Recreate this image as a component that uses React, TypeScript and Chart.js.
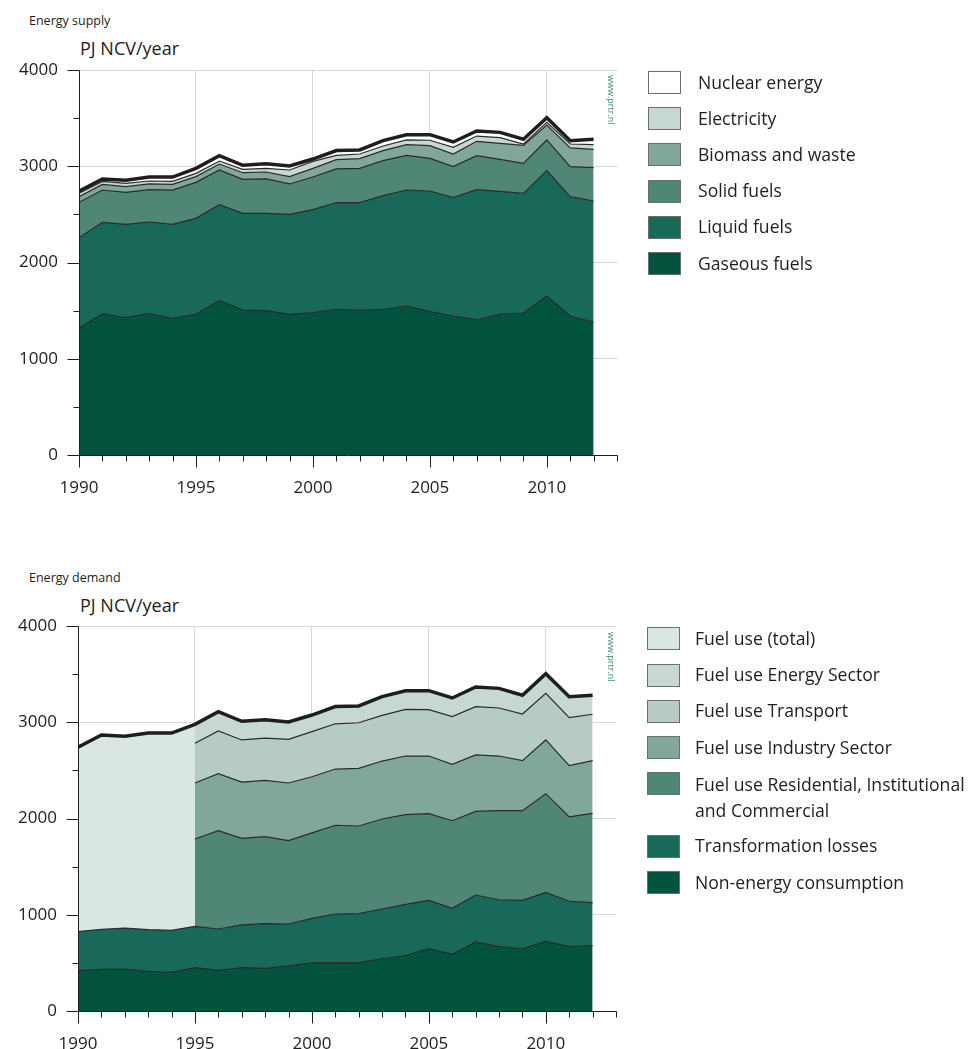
import React, { useEffect, useRef } from "react";
import { Chart, registerables } from "chart.js";

Chart.register(...registerables);

// ---------- DATA ----------
const years = [1990, 1991, 1992, 1993, 1994, 1995, 1996, 1997, 1998, 1999, 2000, 2001, 2002, 2003, 2004, 2005, 2006, 2007, 2008, 2009, 2010, 2011, 2012];

// Energy supply (PJ NCV/year), layer values
const gaseousFuels = [1320, 1465, 1427, 1468, 1420, 1462, 1607, 1506, 1500, 1462, 1479, 1514, 1506, 1514, 1548, 1489, 1444, 1403, 1465, 1475, 1652, 1444, 1382];
const liquidFuels = [938, 952, 970, 953, 977, 997, 994, 1005, 1011, 1038, 1071, 1109, 1116, 1180, 1205, 1254, 1230, 1354, 1274, 1243, 1302, 1240, 1257];
const solidFuels = [367, 336, 332, 336, 356, 374, 360, 353, 357, 316, 338, 350, 356, 364, 360, 339, 322, 353, 333, 312, 319, 312, 346];
const biomassAndWaste = [59, 59, 59, 59, 59, 59, 62, 69, 72, 76, 90, 95, 101, 104, 111, 132, 131, 149, 166, 187, 156, 194, 191];
const electricity = [35, 31, 35, 31, 31, 34, 31, 35, 38, 69, 73, 45, 48, 48, 49, 56, 70, 55, 59, 14, 27, 41, 48];
const nuclearEnergy = [21, 25, 31, 41, 45, 52, 56, 42, 49, 42, 24, 50, 42, 56, 55, 58, 55, 52, 55, 49, 49, 35, 56];

// Energy demand (PJ NCV/year), layer values
const nonEnergyConsumption = [419, 433, 436, 412, 402, 450, 423, 450, 443, 468, 499, 502, 502, 543, 575, 647, 589, 717, 668, 647, 724, 668, 679];
const transformationLosses = [405, 415, 426, 433, 436, 430, 429, 444, 464, 436, 464, 506, 509, 517, 533, 503, 478, 488, 488, 503, 509, 472, 446];
const fuelUseTotal = [1916, 2020, 1992, 2043, 2050, 2098, null, null, null, null, null, null, null, null, null, null, null, null, null, null, null, null, null];
const fuelUseResidential = [null, null, null, null, null, 907, 1021, 900, 904, 866, 888, 922, 911, 935, 932, 900, 910, 869, 925, 931, 1025, 876, 929];
const fuelUseIndustry = [null, null, null, null, null, 582, 593, 585, 586, 599, 583, 584, 599, 602, 609, 599, 586, 586, 568, 520, 558, 533, 547];
const fuelUseTransport = [null, null, null, null, null, 412, 443, 437, 439, 454, 468, 470, 474, 475, 485, 482, 495, 502, 499, 485, 485, 499, 482];
const fuelUseEnergySector = [null, null, null, null, null, 197, 201, 194, 191, 180, 173, 179, 174, 194, 194, 197, 194, 204, 204, 194, 204, 218, 197];

const yTickValues = [0, 1000, 2000, 3000, 4000];
const xTickLabels = [1990, 1995, 2000, 2005, 2010];

const supplyLabels = ["Nuclear energy", "Electricity", "Biomass and waste", "Solid fuels", "Liquid fuels", "Gaseous fuels"];
const demandLabels = [
  "Fuel use (total)",
  "Fuel use Energy Sector",
  "Fuel use Transport",
  "Fuel use Industry Sector",
  "Fuel use Residential, Institutional\nand Commercial",
  "Transformation losses",
  "Non-energy consumption",
];

// ---------- STYLE ----------
const FONT = "'Open Sans', sans-serif";
const LINE = "#2a2a2a";
const C_GAS = "#02533e";
const C_LIQ = "#186957";
const C_SOL = "#4f8676";
const C_BIO = "#80a799";
const C_ELEC = "#c6d8d1";
const C_NUC = "#ffffff";
const C_FTOT = "#d9e6e2";
const C_ENS = "#c6d8d1";
const C_TRA = "#b6cbc4";

const supplyColors = [C_NUC, C_ELEC, C_BIO, C_SOL, C_LIQ, C_GAS];
const demandColors = [C_FTOT, C_ENS, C_TRA, C_BIO, C_SOL, C_LIQ, C_GAS];

const add = (a: (number | null)[], b: (number | null)[]) =>
  a.map((v, i) => (v == null || b[i] == null ? null : (v as number) + (b[i] as number)));

const pts = (arr: (number | null)[]) => years.map((yr, i) => ({ x: yr, y: arr[i] }));

function area(label: string, data: (number | null)[], color: string, target: any, border = LINE, width = 1.2) {
  return {
    label,
    data: pts(data),
    backgroundColor: color,
    borderColor: border,
    borderWidth: width,
    fill: target,
    pointRadius: 0,
    tension: 0,
    spanGaps: false,
  };
}

function supplyDatasets() {
  const g = gaseousFuels;
  const l = add(g, liquidFuels);
  const s = add(l, solidFuels);
  const b = add(s, biomassAndWaste);
  const e = add(b, electricity);
  const t = add(e, nuclearEnergy);
  return [
    area("Gaseous fuels", g, C_GAS, "origin"),
    area("Liquid fuels", l, C_LIQ, 0),
    area("Solid fuels", s, C_SOL, 1),
    area("Biomass and waste", b, C_BIO, 2),
    area("Electricity", e, C_ELEC, 3),
    area("Nuclear energy", t, C_NUC, 4, "#1e1e1e", 3.5),
  ];
}

function demandDatasets() {
  const base0 = nonEnergyConsumption;
  const base = add(base0, transformationLosses);
  const ft = add(base, fuelUseTotal);
  const r = add(base, fuelUseResidential);
  const ind = add(r, fuelUseIndustry);
  const tr = add(ind, fuelUseTransport);
  const en = add(tr, fuelUseEnergySector);
  const total = en.map((v, i) => (v != null ? v : ft[i]));
  return [
    area("Non-energy consumption", base0, C_GAS, "origin"),
    area("Transformation losses", base, C_LIQ, 0),
    area("Fuel use (total)", ft, C_FTOT, 1, "transparent", 1),
    area("Fuel use Residential, Institutional and Commercial", r, C_SOL, 1),
    area("Fuel use Industry Sector", ind, C_BIO, 3),
    area("Fuel use Transport", tr, C_TRA, 4),
    area("Fuel use Energy Sector", en, C_ENS, 5, "transparent", 1),
    { ...area("Total", total, "transparent", false, "#1e1e1e", 3.5) },
  ];
}

const axisPlugin = {
  id: "pblAxes",
  afterDatasetsDraw(chart: any) {
    const { ctx, scales } = chart;
    const xs = scales.x;
    const ys = scales.y;
    const left = Math.round(xs.getPixelForValue(1990)) + 0.5;
    const right = Math.round(xs.getPixelForValue(2013)) + 0.5;
    const top = Math.round(ys.getPixelForValue(4000)) + 0.5;
    const bottom = Math.round(ys.getPixelForValue(0)) + 0.5;
    ctx.save();
    ctx.strokeStyle = "#1e1e1e";
    ctx.lineWidth = 1;
    ctx.beginPath();
    ctx.moveTo(left, top);
    ctx.lineTo(left, bottom);
    ctx.moveTo(left, bottom);
    ctx.lineTo(right, bottom);
    for (let v = 0; v <= 4000; v += 500) {
      const py = Math.round(ys.getPixelForValue(v)) + 0.5;
      const len = v % 1000 === 0 ? 12 : 6;
      ctx.moveTo(left - len, py);
      ctx.lineTo(left, py);
    }
    for (let yr = 1990; yr <= 2013; yr++) {
      const px = Math.round(xs.getPixelForValue(yr)) + 0.5;
      const len = yr % 5 === 0 ? 12 : 6;
      ctx.moveTo(px, bottom);
      ctx.lineTo(px, bottom + len);
    }
    ctx.stroke();
    ctx.restore();
  },
};

function AreaChart({ build }: { build: () => any[] }) {
  const ref = useRef<HTMLCanvasElement | null>(null);
  useEffect(() => {
    if (!ref.current) return;
    const chart = new Chart(ref.current, {
      type: "line",
      data: { datasets: build() as any },
      plugins: [axisPlugin],
      options: {
        animation: false,
        responsive: false,
        devicePixelRatio: 1,
        layout: { padding: { left: 0, top: 70, right: 23, bottom: 0 } },
        plugins: {
          legend: { display: false },
          tooltip: { enabled: false },
          filler: { drawTime: "beforeDatasetsDraw" } as any,
        },
        elements: { line: { borderJoinStyle: "miter", borderCapStyle: "butt" } },
        scales: {
          x: {
            type: "linear",
            min: 1990,
            max: 2013,
            afterFit: (s: any) => {
              s.height = 55;
            },
            afterBuildTicks: (s: any) => {
              s.ticks = years.concat([2013]).map((v) => ({ value: v }));
            },
            ticks: {
              autoSkip: false,
              maxRotation: 0,
              padding: 23,
              color: "#1e1e1e",
              font: { family: FONT, size: 17 },
              callback: (v: any) => (xTickLabels.includes(Number(v)) ? String(v) : ""),
            },
            grid: {
              drawTicks: false,
              lineWidth: 1,
              color: (c: any) => (c.tick && c.tick.value % 5 === 0 && c.tick.value !== 1990 ? "#d6d6d6" : "transparent"),
            },
            border: { display: false },
          },
          y: {
            type: "linear",
            min: 0,
            max: 4000,
            afterFit: (s: any) => {
              s.width = 79;
            },
            afterBuildTicks: (s: any) => {
              s.ticks = yTickValues.map((v) => ({ value: v }));
            },
            ticks: {
              padding: 21,
              color: "#1e1e1e",
              font: { family: FONT, size: 17 },
              callback: (v: any) => String(v),
            },
            grid: {
              drawTicks: false,
              lineWidth: 1,
              color: (c: any) => (c.tick && c.tick.value !== 0 ? "#d6d6d6" : "transparent"),
            },
            border: { display: false },
          },
        },
      },
    });
    return () => chart.destroy();
  }, []);
  return <canvas ref={ref} width={640} height={510} style={{ display: "block", width: 640, height: 510 }} />;
}

function Legend({ labels, colors, tops, sx, tx }: { labels: string[]; colors: string[]; tops: number[]; sx: number; tx: number }) {
  return (
    <>
      {labels.map((lab, i) => {
        const multi = lab.includes("\n");
        const lines = lab.split("\n");
        return (
          <React.Fragment key={lab}>
            <div
              style={{
                position: "absolute",
                left: sx,
                top: tops[i],
                width: 31,
                height: 21,
                background: colors[i],
                border: "1px solid #6e6e6e",
              }}
            />
            <div
              style={{
                position: "absolute",
                left: tx,
                top: multi ? tops[i] - 1 : tops[i] + 2.5,
                fontSize: 17.6,
                lineHeight: multi ? "26px" : "17.6px",
                whiteSpace: "nowrap",
                color: "#1e1e1e",
              }}
            >
              {lines.map((ln, k) => (
                <div key={k}>{ln}</div>
              ))}
            </div>
          </React.Fragment>
        );
      })}
    </>
  );
}

const SHIFT = 556;

export default function App() {
  const supplyTops = [71, 107.2, 143.4, 179.6, 215.8, 252];
  const demandTops = [627, 663.5, 699.5, 736, 772, 834.5, 871];
  return (
    <div
      style={{
        position: "absolute",
        left: 0,
        top: 0,
        width: 978,
        height: 1049,
        overflow: "hidden",
        background: "#fff",
        fontFamily: FONT,
        color: "#1e1e1e",
      }}
    >
      <div style={{ position: "absolute", left: 29, top: 15, fontSize: 12.5, lineHeight: "12.5px", whiteSpace: "nowrap" }}>Energy supply</div>
      <div style={{ position: "absolute", left: 80, top: 39, fontSize: 18, lineHeight: "18px", whiteSpace: "nowrap" }}>PJ NCV/year</div>
      <div style={{ position: "absolute", left: 0, top: 0 }}>
        <AreaChart build={supplyDatasets} />
      </div>
      <div style={{ position: "absolute", left: 607, top: 75, fontSize: 9, lineHeight: "9px", writingMode: "vertical-rl", color: "#3e8f78", whiteSpace: "nowrap" }}>www.prtr.nl</div>
      <Legend labels={supplyLabels} colors={supplyColors} tops={supplyTops} sx={648} tx={698} />

      <div style={{ position: "absolute", left: 29, top: 15 + SHIFT + 1, fontSize: 12.5, lineHeight: "12.5px", whiteSpace: "nowrap" }}>Energy demand</div>
      <div style={{ position: "absolute", left: 80, top: 39 + SHIFT + 1, fontSize: 18, lineHeight: "18px", whiteSpace: "nowrap" }}>PJ NCV/year</div>
      <div style={{ position: "absolute", left: -1, top: SHIFT }}>
        <AreaChart build={demandDatasets} />
      </div>
      <div style={{ position: "absolute", left: 607, top: 75 + SHIFT + 1, fontSize: 9, lineHeight: "9px", writingMode: "vertical-rl", color: "#3e8f78", whiteSpace: "nowrap" }}>www.prtr.nl</div>
      <Legend labels={demandLabels} colors={demandColors} tops={demandTops} sx={647} tx={695} />
    </div>
  );
}
